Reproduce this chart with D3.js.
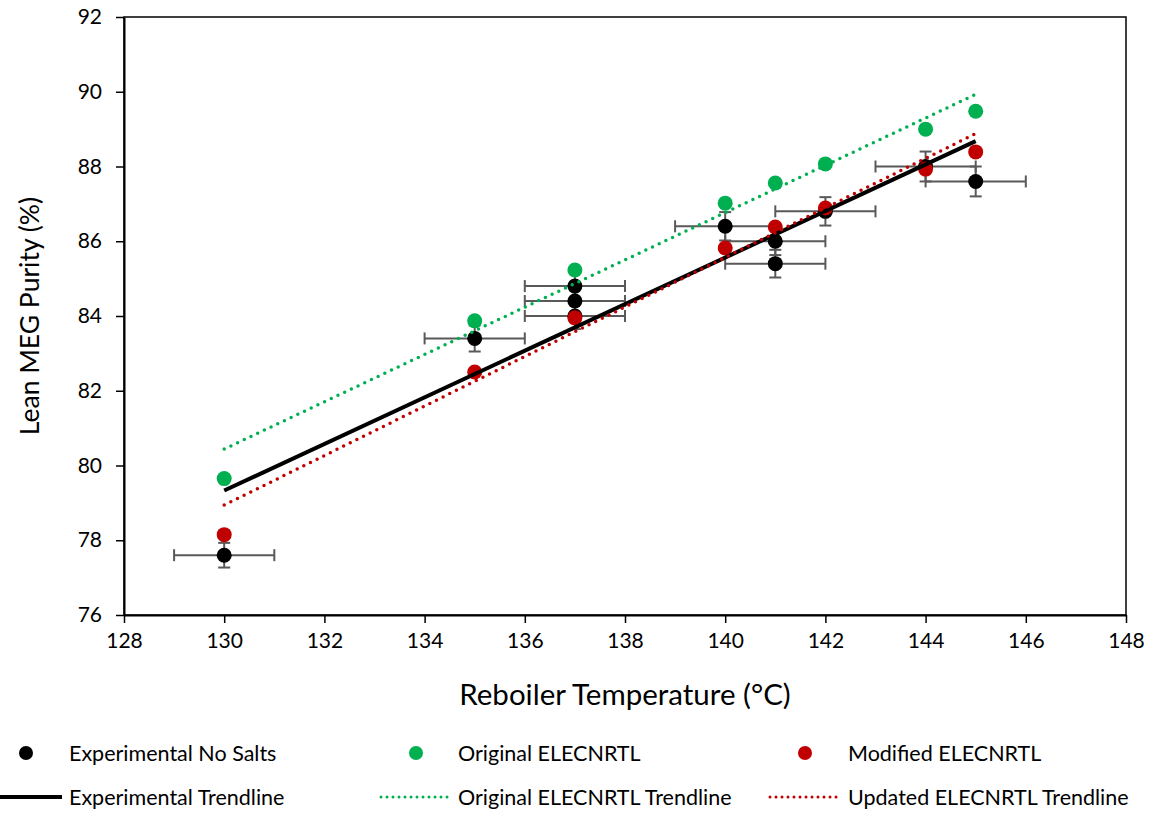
<!DOCTYPE html>
<meta charset="utf-8">
<script src="https://d3js.org/d3.v7.min.js"></script>
<style>
body { margin: 0; background: #fff; }
text { font-family: Lato, "Open Sans", sans-serif; fill: #000; }
</style>
<body>
<script>
// --- data ---
var expX = [130, 135, 137, 137, 137, 140, 141, 141, 142, 144, 145];
var expY = [77.6, 83.4, 84.8, 84.4, 84.0, 86.4, 86.0, 85.4, 86.8, 88.0, 87.6];
var expXErr = [1, 1, 1, 1, 1, 1, 1, 1, 1, 1, 1];
var expYErr = [0.33, 0.35, 0.35, 0.35, 0.35, 0.38, 0.37, 0.37, 0.38, 0.4, 0.4];

var simX = [130, 135, 137, 140, 141, 142, 144, 145];
var origY = [79.65, 83.87, 85.23, 87.02, 87.56, 88.07, 89.0, 89.48];
var modY = [78.15, 82.5, 83.95, 85.82, 86.38, 86.89, 87.93, 88.39];

// trendline ends (at 130 and 145)
var trendX = [130, 145];
var expTrend = [79.33, 88.68];
var origTrend = [80.44, 89.93];
var modTrend = [78.94, 88.88];

var xTicks = [128, 130, 132, 134, 136, 138, 140, 142, 144, 146, 148];
var yTicks = [76, 78, 80, 82, 84, 86, 88, 90, 92];

var W = 1159, H = 814;
var margin = {top: 17, left: 124},
    width = 1002, height = 598;

var svg = d3.select("body").append("svg")
    .attr("width", W)
    .attr("height", H);

var g = svg.append("g")
    .attr("transform", "translate(" + margin.left + "," + margin.top + ")");

var x = d3.scaleLinear().domain([128, 148]).range([0, width]);
var y = d3.scaleLinear().domain([76, 92]).range([height, 0]);

// frame
g.append("rect")
    .attr("width", width).attr("height", height)
    .attr("fill", "none").attr("stroke", "#000").attr("stroke-width", 1.5);

var xAxis = g.append("g")
    .attr("transform", "translate(0," + height + ")")
    .call(d3.axisBottom(x).tickValues(xTicks).tickSize(8).tickPadding(10).tickSizeOuter(0));
var yAxis = g.append("g")
    .call(d3.axisLeft(y).tickValues(yTicks).tickSize(8).tickPadding(14).tickSizeOuter(0));

[xAxis, yAxis].forEach(function(a) {
  a.selectAll("path").attr("stroke", "#000").attr("stroke-width", 2);
  a.selectAll("line").attr("stroke", "#000").attr("stroke-width", 1.5);
  a.selectAll("text").style("font-size", "21px").style("font-family", "Lato, sans-serif");
});

// axis titles
svg.append("text")
    .attr("x", margin.left + x(138)).attr("y", 705)
    .attr("text-anchor", "middle")
    .style("font-size", "29.5px")
    .text("Reboiler Temperature (°C)");

svg.append("text")
    .attr("transform", "translate(39," + (margin.top + y(84)) + ") rotate(-90)")
    .attr("text-anchor", "middle")
    .style("font-size", "26.5px")
    .text("Lean MEG Purity (%)");

// error bars
var errCol = "#595959", cap = 6;
var eb = g.append("g").attr("stroke", errCol).attr("stroke-width", 2);
expX.forEach(function(d, i) {
  var cx = x(d), cy = y(expY[i]);
  var x0 = x(d - expXErr[i]), x1 = x(d + expXErr[i]);
  var y0 = y(expY[i] - expYErr[i]), y1 = y(expY[i] + expYErr[i]);
  eb.append("line").attr("x1", x0).attr("x2", x1).attr("y1", cy).attr("y2", cy);
  eb.append("line").attr("x1", x0).attr("x2", x0).attr("y1", cy - cap).attr("y2", cy + cap);
  eb.append("line").attr("x1", x1).attr("x2", x1).attr("y1", cy - cap).attr("y2", cy + cap);
  eb.append("line").attr("x1", cx).attr("x2", cx).attr("y1", y0).attr("y2", y1);
  eb.append("line").attr("x1", cx - cap).attr("x2", cx + cap).attr("y1", y0).attr("y2", y0);
  eb.append("line").attr("x1", cx - cap).attr("x2", cx + cap).attr("y1", y1).attr("y2", y1);
});

var black = "#000000", green = "#00B050", red = "#C00000";

function dots(xs, ys, col) {
  g.append("g").selectAll("circle")
    .data(xs).enter().append("circle")
    .attr("cx", function(d) { return x(d); })
    .attr("cy", function(d, i) { return y(ys[i]); })
    .attr("r", 7.5)
    .attr("fill", col);
}
dots(expX, expY, black);
dots(simX, origY, green);
dots(simX, modY, red);

var line = d3.line()
    .x(function(d) { return x(d[0]); })
    .y(function(d) { return y(d[1]); });

function trend(ys, col, dotted) {
  var p = g.append("path")
    .datum(trendX.map(function(d, i) { return [d, ys[i]]; }))
    .attr("d", line)
    .attr("fill", "none")
    .attr("stroke", col);
  if (dotted) {
    p.attr("stroke-width", 3.5).attr("stroke-linecap", "round").attr("stroke-dasharray", "0 7.4");
  } else {
    p.attr("stroke-width", 4);
  }
}
trend(expTrend, black, false);
trend(origTrend, green, true);
trend(modTrend, red, true);

// legend
var legMarkers = [
  {name: "Experimental No Salts", col: black, x: 26},
  {name: "Original ELECNRTL", col: green, x: 416},
  {name: "Modified ELECNRTL", col: red, x: 805}
];
var legLines = [
  {name: "Experimental Trendline", col: black, x0: 0, x1: 62, dotted: false},
  {name: "Original ELECNRTL Trendline", col: green, x0: 381, x1: 452, dotted: true},
  {name: "Updated ELECNRTL Trendline", col: red, x0: 770, x1: 841, dotted: true}
];
var textX = [69, 458, 848];

legMarkers.forEach(function(d, i) {
  svg.append("circle").attr("cx", d.x).attr("cy", 753).attr("r", 7).attr("fill", d.col);
  svg.append("text").attr("x", textX[i]).attr("y", 753).attr("dy", "0.35em")
    .style("font-size", "21.5px").text(d.name);
});
legLines.forEach(function(d, i) {
  var l = svg.append("line").attr("x1", d.x0).attr("x2", d.x1).attr("y1", 797).attr("y2", 797)
    .attr("stroke", d.col);
  if (d.dotted) l.attr("stroke-width", 3).attr("stroke-linecap", "round").attr("stroke-dasharray", "0 6");
  else l.attr("stroke-width", 4);
  svg.append("text").attr("x", textX[i]).attr("y", 797).attr("dy", "0.35em")
    .style("font-size", "21.5px").text(d.name);
});
</script>
</body>
